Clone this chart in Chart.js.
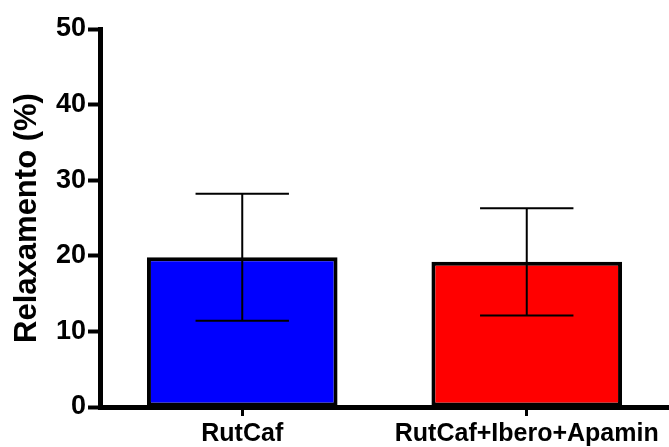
<!DOCTYPE html>
<html lang="en">
<head>
    <meta charset="UTF-8">
    <title>Relaxamento</title>
    <script src="https://cdn.jsdelivr.net/npm/chart.js"></script>
    <style>
        html, body { margin: 0; padding: 0; background: #fff; }
        #wrap { width: 669px; height: 447px; }
    </style>
</head>
<body>
    <div id="wrap"><canvas id="myChart"></canvas></div>

    <script>
        // data
        var groups = ['RutCaf', 'RutCaf+Ibero+Apamin'];
        var means = [19.8, 19.2];
        var sem = [8.4, 7.1];
        var barColors = ['#0000ff', '#ff0000'];
        var yTicks = [0, 10, 20, 30, 40, 50];

        // draws the error bars from the y scale
        const errorBars = {
            id: 'errorBars',
            afterDatasetsDraw(chart) {
                const ctx = chart.ctx;
                const y = chart.scales.y;
                const meta = chart.getDatasetMeta(0);
                ctx.save();
                ctx.strokeStyle = '#000';
                ctx.lineWidth = 2;
                meta.data.forEach(function (bar, i) {
                    var hi = y.getPixelForValue(means[i] + sem[i]);
                    var lo = y.getPixelForValue(means[i] - sem[i]);
                    var half = bar.width * 0.245;
                    ctx.beginPath();
                    ctx.moveTo(bar.x, hi);
                    ctx.lineTo(bar.x, lo);
                    ctx.moveTo(bar.x - half, hi);
                    ctx.lineTo(bar.x + half, hi);
                    ctx.moveTo(bar.x - half, lo);
                    ctx.lineTo(bar.x + half, lo);
                    ctx.stroke();
                });
                ctx.restore();
            }
        };

        Chart.defaults.font.family = "'Liberation Sans', Arial, sans-serif";
        Chart.defaults.font.weight = 'bold';
        Chart.defaults.color = '#000';

        var myChart = new Chart(document.getElementById('myChart'), {
            type: 'bar',
            data: {
                labels: groups,
                datasets: [{
                    data: means,
                    backgroundColor: barColors,
                    borderColor: '#000',
                    borderWidth: 4,
                    borderSkipped: false,
                    barPercentage: 0.67,
                    categoryPercentage: 1
                }]
            },
            options: {
                responsive: true,
                maintainAspectRatio: false,
                animation: false,
                layout: { padding: { top: 29, right: 0, left: 0, bottom: 0 } },
                plugins: {
                    legend: { display: false },
                    tooltip: { enabled: false }
                },
                scales: {
                    x: {
                        offset: true,
                        afterFit: function (s) { s.height = 40; },
                        border: { display: true, color: '#000', width: 5 },
                        grid: { drawOnChartArea: false, drawTicks: true, tickLength: 9, tickWidth: 3, tickColor: '#000', offset: false },
                        ticks: { font: { size: 25, weight: 'bold' }, color: '#000', padding: 3, maxRotation: 0, minRotation: 0, autoSkip: false }
                    },
                    y: {
                        min: 0,
                        max: 50,
                        afterBuildTicks: function (s) { s.ticks = yTicks.map(function (v) { return { value: v }; }); },
                        afterFit: function (s) { s.width = 100; },
                        border: { display: true, color: '#000', width: 5 },
                        grid: { drawOnChartArea: false, drawTicks: true, tickLength: 12, tickWidth: 4, tickColor: '#000' },
                        ticks: { font: { size: 27, weight: 'bold' }, color: '#000', padding: 2 },
                        title: {
                            display: true,
                            text: 'Relaxamento (%)',
                            font: { size: 31, weight: 'bold' },
                            color: '#000',
                            padding: { top: 9, bottom: 0 }
                        }
                    }
                }
            },
            plugins: [errorBars]
        });
    </script>
</body>
</html>
